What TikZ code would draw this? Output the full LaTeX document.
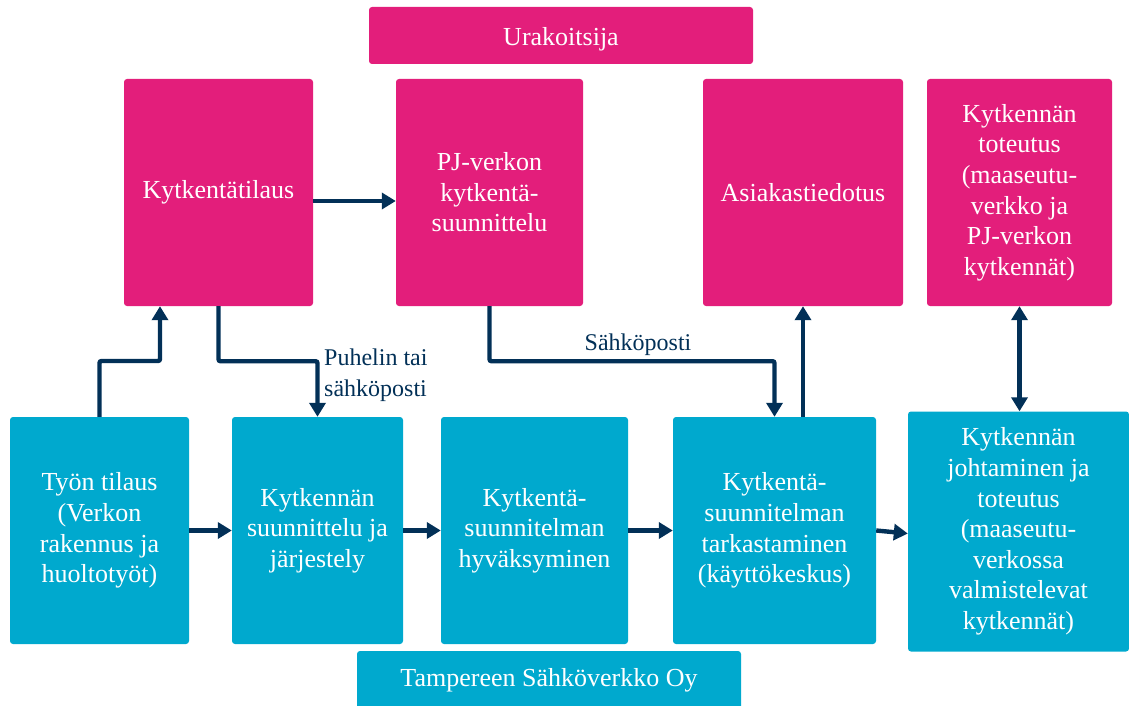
\documentclass[tikz,border=0pt]{standalone}
\usepackage{fontspec}
\setmainfont{Liberation Serif}
\usetikzlibrary{arrows.meta}
\definecolor{contrpink}{RGB}{227,30,123}
\definecolor{tsvblue}{RGB}{0,169,206}
\definecolor{flownavy}{RGB}{2,48,87}
\newcommand{\boxfont}{\fontsize{26}{30.6}\selectfont}
\newcommand{\notefont}{\fontsize{24}{31}\selectfont}
\tikzset{
  basebox/.style={rounded corners=3pt, text=white, align=center,
    font=\boxfont, inner sep=0pt},
  pinkbox/.style={basebox, fill=contrpink},
  bluebox/.style={basebox, fill=tsvblue},
  flow/.style={draw=flownavy, line width=4.4pt, rounded corners=2pt,
    -{Triangle[length=14pt,width=16pt]}},
  twoway/.style={flow, {Triangle[length=14pt,width=16pt]}-{Triangle[length=14pt,width=16pt]}},
  note/.style={text=flownavy, font=\notefont, inner sep=0pt},
}
\begin{document}
\begin{tikzpicture}[x=1pt,y=-1pt]
\useasboundingbox (0,0) rectangle (1129,706);

% contractor side
\node[pinkbox, minimum width=384pt, minimum height=57pt, text height=21pt, text depth=0pt] (ura) at (561,35.5) {Urakoitsija};
\node[pinkbox, minimum width=189pt, minimum height=227pt] (kt) at (218.5,192.5) {Kytkentätilaus};
\node[pinkbox, minimum width=187pt, minimum height=227pt] (pj) at (489.5,192.5) {PJ-verkon\\kytkentä-\\suunnittelu};
\node[pinkbox, minimum width=200pt, minimum height=227pt] (as) at (803,192.5) {Asiakastiedotus};
\node[pinkbox, minimum width=185pt, minimum height=227pt] (tot) at (1019.5,192.5) {Kytkennän\\toteutus\\(maaseutu-\\verkko ja\\PJ-verkon\\kytkennät)};

% network company side
\node[bluebox, minimum width=179pt, minimum height=227pt] (tyo) at (99.5,530.5) {Työn tilaus\\(Verkon\\rakennus ja\\huoltotyöt)};
\node[bluebox, minimum width=171pt, minimum height=227pt] (sj) at (317.5,530.5) {Kytkennän\\suunnittelu ja\\järjestely};
\node[bluebox, minimum width=187pt, minimum height=227pt] (hy) at (534.5,530.5) {Kytkentä-\\suunnitelman\\hyväksyminen};
\node[bluebox, minimum width=203pt, minimum height=227pt] (tk) at (774.5,530.5) {Kytkentä-\\suunnitelman\\tarkastaminen\\(käyttökeskus)};
\node[bluebox, minimum width=221pt, minimum height=240pt] (jo) at (1018.5,531.5) {Kytkennän\\johtaminen ja\\toteutus\\(maaseutu-\\verkossa\\valmistelevat\\kytkennät)};
\node[bluebox, minimum width=384pt, minimum height=58pt] (tsv) at (549,680) {Tampereen Sähköverkko Oy};

% connectors
\coordinate (upbend) at (160,361);
\draw[flow] (tyo.north) |- (upbend) -- (upbend |- kt.south);
\draw[flow] (kt.south) -- ++(0,55) -| (sj.north);
\draw[flow] (pj.south) -- ++(0,55) -| (tk.north);
\draw[flow] (tk.north -| as.south) -- (as.south);
\draw[twoway] (jo.north -| tot.south) -- (tot.south);

\coordinate (ordout) at ([yshift=-8.5pt]kt.east);
\draw[flow] (ordout) -- (ordout -| pj.west);
\draw[flow] (tyo.east) -- (sj.west);
\draw[flow] (sj.east) -- (hy.west);
\draw[flow] (hy.east) -- (tk.west);
\draw[flow] (tk.east) -- ([yshift=-2pt]jo.west);

% connector labels
\node[note, anchor=west, align=left] (phone) at (324,375) {Puhelin tai\\sähköposti};
\node[note] (mail) at (638,344.5) {Sähköposti};
\end{tikzpicture}
\end{document}
